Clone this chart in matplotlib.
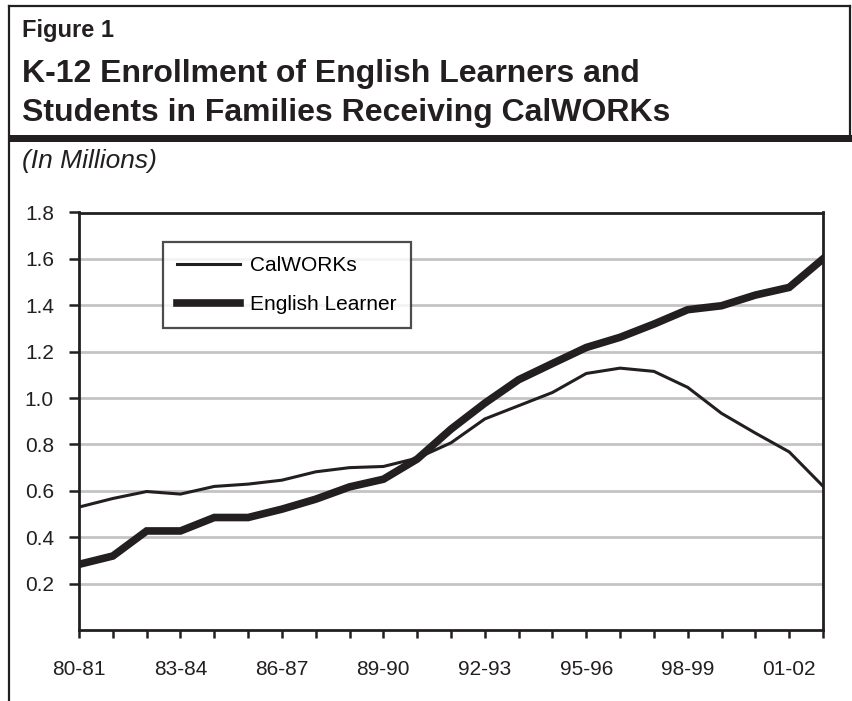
import matplotlib
matplotlib.use("Agg")
import matplotlib.pyplot as plt
from matplotlib.lines import Line2D
from matplotlib.patches import Rectangle

plt.rcParams['font.family'] = ['Liberation Sans', 'DejaVu Sans']

# School years 1980-81 through 2002-03
years = ['80-81', '81-82', '82-83', '83-84', '84-85', '85-86', '86-87', '87-88',
         '88-89', '89-90', '90-91', '91-92', '92-93', '93-94', '94-95', '95-96',
         '96-97', '97-98', '98-99', '99-00', '00-01', '01-02', '02-03']

# Enrollment, millions
calworks = [0.53, 0.567, 0.597, 0.586, 0.619, 0.629, 0.646, 0.682, 0.70, 0.705,
            0.741, 0.807, 0.91, 0.967, 1.024, 1.106, 1.129, 1.115, 1.046, 0.934,
            0.849, 0.768, 0.62]
english_learner = [0.283, 0.319, 0.427, 0.427, 0.485, 0.485, 0.521, 0.564, 0.617,
                   0.650, 0.737, 0.866, 0.978, 1.079, 1.149, 1.218, 1.262, 1.319,
                   1.381, 1.398, 1.444, 1.477, 1.60]

y_ticks = [0.2, 0.4, 0.6, 0.8, 1.0, 1.2, 1.4, 1.6, 1.8]

INK = '#231f20'
W, H = 852, 701
fig = plt.figure(figsize=(W / 100, H / 100), dpi=100)


def px(x, y):
    # pixel position (from top-left) -> figure fraction
    return x / W, 1 - y / H


# page frame: box around the heading, thick rule, left edge down the page
frame = dict(color=INK, transform=fig.transFigure)
fig.add_artist(Line2D([9 / W, 9 / W], [0, 1 - 6 / H], lw=1.6, **frame))
fig.add_artist(Line2D([9 / W, 850 / W], [1 - 6 / H, 1 - 6 / H], lw=1.6, **frame))
fig.add_artist(Line2D([850 / W, 850 / W], [1 - 6 / H, 1 - 135 / H], lw=1.6, **frame))
fig.add_artist(Rectangle(px(9, 142), (W - 9) / W, 7 / H, color=INK,
                         transform=fig.transFigure, lw=0))

fig.text(*px(22, 37), 'Figure 1', fontsize=17, fontweight='bold', color=INK)
fig.text(*px(22, 82), 'K-12 Enrollment of English Learners and', fontsize=23,
         fontweight='bold', color=INK)
fig.text(*px(22, 121), 'Students in Families Receiving CalWORKs', fontsize=23,
         fontweight='bold', color=INK)
fig.text(*px(22, 168), '(In Millions)', fontsize=19, style='italic', color=INK)

ax = fig.add_axes([79 / W, 1 - 630 / H, (823 - 79) / W, (630 - 212.5) / H])
x = list(range(len(years)))

ax.plot(x, calworks, color=INK, lw=2.2, solid_joinstyle='miter', label='CalWORKs', zorder=3)
ax.plot(x, english_learner, color=INK, lw=5.5, solid_joinstyle='miter',
        label='English Learner', zorder=4)

ax.set_xlim(0, len(years) - 1)
ax.set_ylim(0, 1.8)
ax.set_yticks(y_ticks)
ax.set_yticklabels([f'{v:.1f}' for v in y_ticks])
ax.set_xticks(x)
ax.set_xticklabels([y if i % 3 == 0 else '' for i, y in enumerate(years)])
ax.tick_params(axis='y', length=7, width=1.8, pad=11, labelsize=15, colors=INK)
ax.tick_params(axis='x', length=5.5, width=1.8, pad=16, labelsize=15, colors=INK)

for v in y_ticks[:-1]:
    ax.axhline(v, color='#c4c4c4', lw=2, zorder=1)
for s in ax.spines.values():
    s.set_linewidth(2)
    s.set_color(INK)

leg = ax.legend(loc='upper left',
                bbox_to_anchor=((162.5 - 79) / (823 - 79), (630 - 241.5) / (630 - 212.5)),
                fontsize=15, frameon=True, fancybox=False, edgecolor=INK,
                handlelength=3.0, handletextpad=0.5, borderpad=0.7, labelspacing=0.95,
                borderaxespad=0)
leg.get_frame().set_linewidth(1.6)

fig.savefig('out.png', dpi=100)
